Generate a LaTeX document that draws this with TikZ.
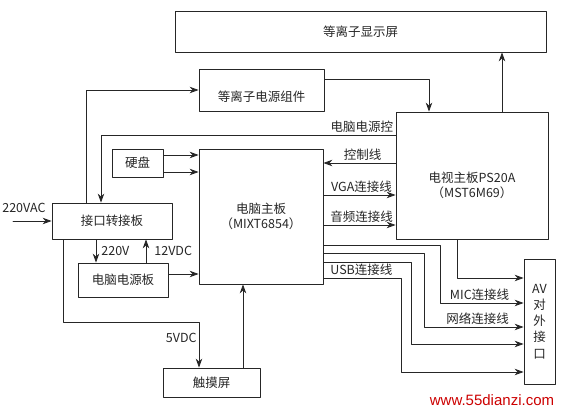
\documentclass[tikz,border=0pt]{standalone}
\usepackage{fontspec}
\setmainfont{Noto Sans CJK SC}
\newfontfamily\wmfont{Liberation Sans}
\usetikzlibrary{arrows.meta,calc}

\begin{document}
\begin{tikzpicture}[x=1pt, y=-1pt, line width=0.8pt, line cap=round, line join=round,
  every node/.style={font=\fontsize{12.5}{15}\selectfont, text=black!85},
  blk/.style={draw=black!85, rectangle, inner sep=0pt},
  arr/.style={draw=black!85, -{Stealth[length=9pt,width=6.5pt]}},
  lbl/.style={inner sep=2pt}]
  \useasboundingbox (0,0) rectangle (563,412);
  % Blocks.
  \node[blk, minimum width=371pt, minimum height=41pt] (disp) at (360.5,31.5) {等离子显示屏};
  \node[blk, minimum width=125pt, minimum height=42pt, text height=25pt, text depth=1.5pt] (psu) at (261.5,90) {等离子电源组件};
  \node[blk, minimum width=152pt, minimum height=127pt, align=center, text height=46pt] (tv) at (472,175.5) {电视主板PS20A\\（MST6M69）};
  \node[blk, minimum width=124pt, minimum height=135pt, align=center] (pc) at (261,216.5) {电脑主板\\（MIXT6854）};
  \node[blk, minimum width=51pt, minimum height=28pt] (hdd) at (137.5,163) {硬盘};
  \node[blk, minimum width=120pt, minimum height=36pt] (adp) at (112,221) {接口转接板};
  \node[blk, minimum width=90pt, minimum height=34pt] (pcpsu) at (123,280) {电脑电源板};
  \node[blk, minimum width=97pt, minimum height=29pt] (touch) at (211.5,382.5) {触摸屏};
  \node[blk, minimum width=31pt, minimum height=125pt, align=center,
    font=\fontsize{12.5}{16.25}\selectfont] (av) at (539.5,321.5) {AV\\对\\外\\接\\口};

  % Plasma side.
  \draw[arr] ($(tv.north)+(30,0)$) coordinate (up) -- (up |- disp.south);
  \draw[arr] ($(psu.east)+(0,-11)$) -| ($(tv.north)+(-43,0)$);
  \draw[arr] ($(adp.north)+(-26,0)$) |- (psu.west);
  \draw[arr] ($(tv.west)+(0,-40.5)$) coordinate (pctl) -| ($(adp.north)+(-11,0)$);
  \node[lbl, anchor=south east] (lpctl) at (pctl) {电脑电源控};

  % Hard disk.
  \foreach \dy in {-8,9} {
    \draw[arr] ($(hdd.east)+(0,\dy)$) coordinate (h) -- (h -| pc.west);
  }

  % Between the two boards.
  \draw[arr] ($(tv.west)+(0,-12.5)$) coordinate (c) -- (c -| pc.east)
    node[lbl, midway, above, xshift=3pt] (lctl) {控制线};
  \foreach \dy/\txt in {19.5/VGA连接线, 49.5/音频连接线} {
    \draw[arr] ($(tv.west)+(0,\dy)$) coordinate (c) ($(c -| pc.east)$) -- (c)
      node[lbl, midway, above, xshift=2pt] {\txt};
  }

  % To the AV block.
  \draw[arr] ($(tv.south)+(-15,0)$) |- ($(av.west)+(0,-43.5)$);
  \foreach \i/\dy/\dx/\ty in {1/28.5/-83/-18.5, 2/36.5/-99/5.5, 3/45.5/-112/22.5, 4/61.5/-122/50.5} {
    \coordinate (t\i) at ($(av.west)+(0,\ty)$);
    \draw[arr] ($(pc.east)+(0,\dy)$) coordinate (s\i) -| ($(t\i)+(\dx,0)$) -- (t\i);
  }
  \node[lbl, above] (lmic) at ($(t1)+(-44,0)$) {MIC连接线};
  \node[lbl, above] (lnet) at ($(t2)+(-46,0)$) {网络连接线};
  \node[lbl, below] (lusb) at ($(s3)+(38,0)$) {USB连接线};

  % Power and input side.
  \draw[arr] ($(adp.south)+(-16,0)$) coordinate (a) -- (a |- pcpsu.north)
    node[lbl, midway, right, xshift=3pt] (l220) {220V};
  \draw[arr] ($(pcpsu.north)+(23,0)$) coordinate (b) -- (b |- adp.south)
    node[lbl, midway, right, xshift=6pt] (l12) {12VDC};
  \draw[arr] ($(pcpsu.east)+(0,-6)$) coordinate (p) -- (p -| pc.west);
  \draw[arr] ($(adp.south)+(-49,0)$) |- ($(touch.north)+(-12.5,-45)$) coordinate (k)
    -- (k |- touch.north) node[lbl, pos=0.35, left] (l5) {5VDC};
  \draw[arr] ($(touch.north)+(31.5,0)$) coordinate (q) -- (q |- pc.south);
  \coordinate (acin) at (13,221);
  \draw[arr] (acin) -- (adp.west);
  \node[lbl] (lac) at (24,208) {220VAC};

  % Watermark.
  \node[text=red!80!black, font=\wmfont\fontsize{15}{17}\selectfont] (wm) at (492,400) {www.55dianzi.com};
\end{tikzpicture}
\end{document}
